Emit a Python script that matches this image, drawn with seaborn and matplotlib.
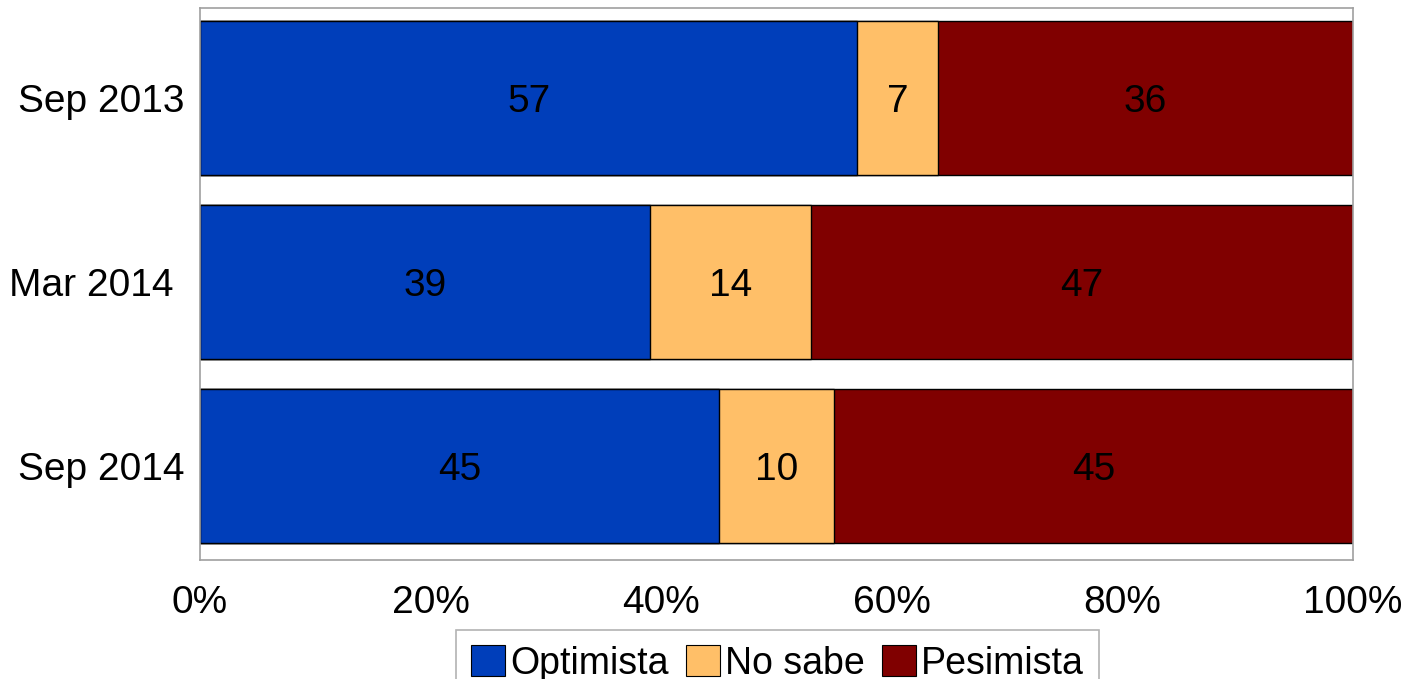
import matplotlib
matplotlib.use("Agg")
import matplotlib.pyplot as plt
import seaborn as sns
import pandas as pd
import numpy as np
from matplotlib.patches import Patch

periods = ["Sep 2013", "Mar 2014 ", "Sep 2014"]
series = ["Optimista", "No sabe", "Pesimista"]
optimista = [57, 39, 45]
no_sabe = [7, 14, 10]
pesimista = [36, 47, 45]
colors = ["#003EBA", "#FFBF68", "#800000"]
xticks = [0, 20, 40, 60, 80, 100]
xticklabels = ["0%", "20%", "40%", "60%", "80%", "100%"]

sns.set_theme(style="white")
plt.rcParams["font.family"] = ["Liberation Sans", "DejaVu Sans"]
plt.rcParams["text.color"] = "black"
plt.rcParams["xtick.color"] = "black"
plt.rcParams["ytick.color"] = "black"

fig = plt.figure(figsize=(14.06, 6.79), dpi=100)
ax = fig.add_axes([200/1406, 1-560/679, 1153/1406, 552/679])

vals = np.array([optimista, no_sabe, pesimista], dtype=float)
cums = np.cumsum(vals, axis=0)
# draw from the largest cumulative total down so each segment shows
for i in range(len(series) - 1, -1, -1):
    df = pd.DataFrame({"period": periods, "value": cums[i]})
    sns.barplot(data=df, x="value", y="period", orient="h", color=colors[i],
                width=0.84, edgecolor="black", linewidth=1.0, saturation=1,
                ax=ax)

for i in range(len(series)):
    starts = cums[i] - vals[i]
    for j in range(len(periods)):
        ax.text(starts[j] + vals[i][j] / 2, j, f"{int(vals[i][j])}",
                ha="center", va="center_baseline", fontsize=28, color="black")

ax.set_xlim(0, 100)
ax.set_ylim(2.51, -0.49)
ax.set_xticks(xticks)
ax.set_xticklabels(xticklabels, fontsize=28)
ax.tick_params(axis="x", pad=18, length=0)
ax.tick_params(axis="y", pad=11, length=0, labelsize=28)
ax.set_xlabel("")
ax.set_ylabel("")
for s in ax.spines.values():
    s.set_color("#a0a0a0")
    s.set_linewidth(1.2)

handles = [Patch(facecolor=c, edgecolor="black", linewidth=0.8) for c in colors]
leg = fig.legend(handles, series, loc="upper left",
                 bbox_to_anchor=(456/1406, 1-630/679), ncol=3,
                 fontsize=27, frameon=True, fancybox=False,
                 handlelength=0.9, handleheight=0.9, handletextpad=0.15,
                 columnspacing=0.45, borderpad=0.4, borderaxespad=0)
leg.get_frame().set_edgecolor("#a0a0a0")
leg.get_frame().set_linewidth(1.2)

fig.savefig("out.png", dpi=100)
